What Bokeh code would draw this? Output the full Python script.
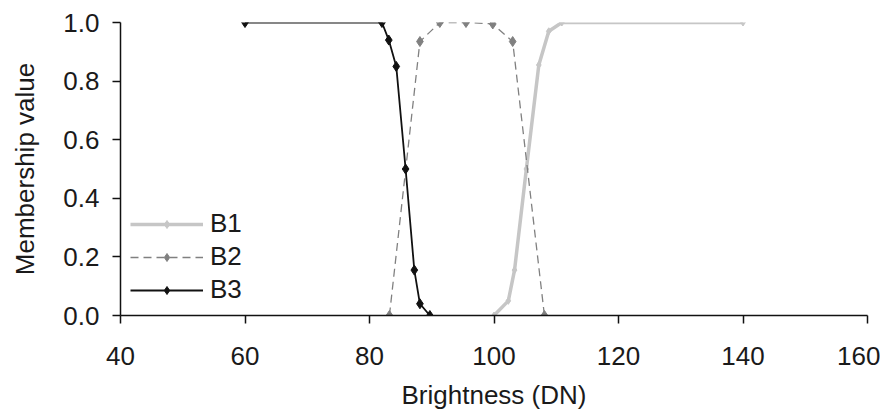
from bokeh.plotting import figure
from bokeh.models import FixedTicker, PrintfTickFormatter, Range1d, Legend, LegendItem
from bokeh.embed import file_html
from bokeh.resources import INLINE

# ---- data ----
b1_x = [100, 102.3, 103.3, 105.2, 107.2, 108.8, 110.9, 140]
b1_y = [0.0, 0.05, 0.155, 0.5, 0.855, 0.97, 1.0, 1.0]

b2_x = [83.2, 88.1, 91.3, 95.5, 99.8, 103.0, 108.1]
b2_y = [0.0, 0.935, 1.0, 1.0, 0.995, 0.935, 0.0]

b3_x = [60, 82, 83.1, 84.3, 85.8, 87.2, 88.1, 89.7]
b3_y = [1.0, 1.0, 0.94, 0.85, 0.5, 0.155, 0.04, 0.0]

x_ticks = [40, 60, 80, 100, 120, 140, 160]
y_ticks = [0.0, 0.2, 0.4, 0.6, 0.8, 1.0]

FONT = "Liberation Sans"
TXT = "#1a1a1a"
FS = "26px"

p = figure(width=880, height=403, frame_width=747, frame_height=293,
           output_backend="svg", toolbar_location=None,
           x_range=Range1d(40, 160), y_range=Range1d(0, 1.0),
           min_border_left=120, min_border_right=13,
           min_border_top=22, min_border_bottom=88)
p.outline_line_color = None
p.xgrid.visible = False
p.ygrid.visible = False
p.background_fill_color = "white"
p.border_fill_color = "white"

r1 = p.line(b1_x, b1_y, line_color="#c6c6c6", line_width=3.5)
m1 = p.scatter(b1_x, b1_y, marker="diamond", size=7, color="#c6c6c6")
r2 = p.line(b2_x, b2_y, line_color="#808080", line_width=1.3, line_dash="8 5")
m2 = p.scatter(b2_x, b2_y, marker="diamond", size=10, color="#808080")
r3 = p.line(b3_x, b3_y, line_color="#111111", line_width=1.8)
m3 = p.scatter(b3_x, b3_y, marker="diamond", size=10, color="#111111")

for ax in (p.xaxis[0], p.yaxis[0]):
    ax.axis_line_color = "#111111"
    ax.axis_line_width = 1.5
    ax.major_tick_line_color = "#111111"
    ax.major_tick_line_width = 1.5
    ax.major_tick_in = 0
    ax.major_tick_out = 8
    ax.minor_tick_line_color = None
    ax.major_label_text_font = FONT
    ax.major_label_text_font_size = FS
    ax.major_label_text_color = TXT
    ax.axis_label_text_font = FONT
    ax.axis_label_text_font_size = FS
    ax.axis_label_text_color = TXT
    ax.axis_label_text_font_style = "normal"

p.xaxis.ticker = FixedTicker(ticks=x_ticks)
p.yaxis.ticker = FixedTicker(ticks=y_ticks)
p.yaxis.formatter = PrintfTickFormatter(format="%.1f")
p.xaxis.formatter = PrintfTickFormatter(format="%d")
p.xaxis.axis_label = "Brightness (DN)"
p.yaxis.axis_label = "Membership value"
p.xaxis.major_label_standoff = 23
p.yaxis.major_label_standoff = 13
p.xaxis.axis_label_standoff = 12
p.yaxis.axis_label_standoff = 20

legend = Legend(items=[
    LegendItem(label="B1", renderers=[r1, m1]),
    LegendItem(label="B2", renderers=[r2, m2]),
    LegendItem(label="B3", renderers=[r3, m3]),
], location=(10, 10))
legend.padding = 0
legend.margin = 0
legend.spacing = 2
legend.glyph_width = 73
legend.glyph_height = 20
legend.label_height = 20
legend.label_standoff = 7
legend.label_text_font = FONT
legend.label_text_font_size = FS
legend.label_text_color = TXT
legend.border_line_color = None
legend.background_fill_alpha = 0
p.add_layout(legend)

open("out.html", "w").write(file_html(p, INLINE))
